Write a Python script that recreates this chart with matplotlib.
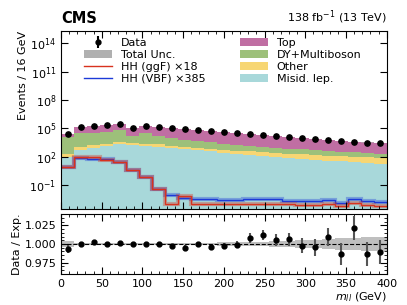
import numpy as np
import matplotlib
matplotlib.use("Agg")
import matplotlib.pyplot as plt
from matplotlib.ticker import FixedLocator, MultipleLocator, NullLocator, LogFormatterMathtext, FormatStrFormatter
from matplotlib.patches import Patch
from matplotlib.lines import Line2D

# ---- data ----
bin_edges = np.arange(0, 401, 16)
misid = [89, 562, 891, 1259, 1995, 1585, 1413, 1122, 891, 661, 501, 380, 282, 214, 158, 120, 93, 74, 59, 48, 40, 33, 28, 24, 19]
other = [111, 438, 694, 980, 1553, 1233, 1099, 873, 623, 487, 390, 328, 280, 233, 205, 175, 152, 135, 119, 103, 92, 82, 72, 65, 57]
dy_multiboson = [11020, 28512, 33896, 39448, 67247, 11307, 27000, 14601, 7399, 5162, 3680, 2603, 1837, 1415, 1082, 853, 667, 532, 425, 350, 285, 240, 195, 162, 124]
top = [16964, 102314, 150728, 203784, 217608, 95523, 156697, 141893, 108577, 78804, 58525, 45667, 36506, 29041, 24259, 19269, 15306, 12141, 9397, 7442, 5893, 4431, 3686, 2985, 2554]
data = [28001, 131826, 186637, 245471, 288807, 109648, 186135, 158489, 117138, 84688, 63071, 48758, 38788, 30872, 25910, 20656, 16306, 12963, 9978, 7907, 6370, 4724, 4065, 3191, 2724]
data_rel_err = [0.005, 0.0015, 0.0015, 0.0015, 0.0015, 0.0018, 0.0015, 0.0015, 0.002, 0.003, 0.003, 0.003, 0.004, 0.005, 0.007, 0.007, 0.0085, 0.009, 0.010, 0.011, 0.012, 0.0145, 0.016, 0.016, 0.016]
unc_rel = [0.0045, 0.001, 0.001, 0.001, 0.001, 0.001, 0.001, 0.0012, 0.0014, 0.0016, 0.0018, 0.002, 0.0022, 0.0025, 0.003, 0.0033, 0.0037, 0.0042, 0.005, 0.0058, 0.0065, 0.0075, 0.0085, 0.0095, 0.010]
hh_ggf = [8.9, 85, 91, 50, 26, 3.8, 0.74, 0.035, 0.0009, 0.0072, 0.0009, 0.0009, 0.0009, 0.0009, 0.0009, 0.0011, 0.0011, 0.0009, 0.00074, 0.00074, 0.0011, 0.00063, 0.0014, 0.00074, 0.00058]
hh_vbf = [8.5, 66, 63, 52, 26, 3.6, 0.71, 0.035, 0.01, 0.004, 0.0035, 0.0032, 0.0025, 0.0025, 0.003, 0.0038, 0.0032, 0.0021, 0.0019, 0.0019, 0.0025, 0.0014, 0.003, 0.0019, 0.0016]

colors = ["#a8d8da", "#f7d673", "#9dc07a", "#c06ea3"]
col_ggf = "#d8321e"
col_vbf = "#1c3ad8"

edges = np.array(bin_edges, dtype=float)
centers = 0.5 * (edges[1:] + edges[:-1])
comps = [np.array(misid, float), np.array(other, float), np.array(dy_multiboson, float), np.array(top, float)]
total = np.sum(comps, axis=0)
data_a = np.array(data, float)
ratio = data_a / total

plt.rcParams["font.family"] = "DejaVu Sans"
fig = plt.figure(figsize=(4.07, 3.05), dpi=100)
ax = fig.add_axes([0.150, 0.315, 0.800, 0.583])
rax = fig.add_axes([0.150, 0.102, 0.800, 0.196])

# stack
base = np.zeros_like(total)
for c, col in zip(comps, colors):
    ax.stairs(base + c, edges, baseline=base, fill=True, color=col, lw=0)
    base = base + c

# total unc band
unc = np.array(unc_rel)
ax.stairs(total * (1 + unc), edges, baseline=total * (1 - unc), fill=True, color="#b0b0b0", alpha=0.6, lw=0)

# signals
for vals, col in [(hh_vbf, col_vbf), (hh_ggf, col_ggf)]:
    ax.stairs(vals, edges, baseline=None, color=col, lw=3.0, alpha=0.35)
    ax.stairs(vals, edges, baseline=None, color=col, lw=1.0)

# data
ax.errorbar(centers, data_a, yerr=data_a * np.array(data_rel_err), fmt="o", color="black", ms=3.8, elinewidth=1, capsize=0)

ax.set_yscale("log")
ax.set_xlim(0, 400)
ax.set_ylim(3e-4, 2e15)
ax.yaxis.set_major_locator(FixedLocator([1e-1, 1e2, 1e5, 1e8, 1e11, 1e14]))
ax.yaxis.set_major_formatter(LogFormatterMathtext())
ax.yaxis.set_minor_locator(NullLocator())
ax.xaxis.set_major_locator(MultipleLocator(50))
ax.xaxis.set_minor_locator(MultipleLocator(10))
ax.tick_params(labelbottom=False)
ax.set_ylabel("Events / 16 GeV", fontsize=8, loc="top", labelpad=1)

# ratio
rax.stairs(1 + unc, edges, baseline=1 - unc, fill=True, color="#b0b0b0", alpha=0.8, lw=0)
rax.axhline(1.0, color="black", ls="--", lw=0.8)
rax.errorbar(centers, ratio, yerr=np.array(data_rel_err), fmt="o", color="black", ms=3.5, elinewidth=1.5, capsize=0, ecolor="#555555")
rax.set_xlim(0, 400)
rax.set_ylim(0.96, 1.04)
rax.yaxis.set_major_locator(FixedLocator([0.975, 1.0, 1.025]))
rax.yaxis.set_minor_locator(MultipleLocator(0.005))
rax.yaxis.set_major_formatter(FormatStrFormatter("%.3f"))
rax.xaxis.set_major_locator(MultipleLocator(50))
rax.xaxis.set_minor_locator(MultipleLocator(10))
rax.set_ylabel("Data / Exp.", fontsize=8, labelpad=2)
rax.set_xlabel("$m_{ll}$ (GeV)", fontsize=8, loc="right", labelpad=1)

for a in (ax, rax):
    a.tick_params(which="both", direction="in", top=True, right=True, labelsize=8)
    a.tick_params(which="major", length=5)
    a.tick_params(which="minor", length=2.5)
    for s in a.spines.values():
        s.set_linewidth(0.8)

# legend
eb = ax.errorbar([], [], yerr=[], fmt="o", color="black", ms=3.5)
handles = [
    eb,
    Patch(facecolor="#b0b0b0", edgecolor="none"),
    Line2D([], [], color=col_ggf, lw=1.0),
    Line2D([], [], color=col_vbf, lw=1.0),
    Patch(facecolor=colors[3]),
    Patch(facecolor=colors[2]),
    Patch(facecolor=colors[1]),
    Patch(facecolor=colors[0]),
]
leg_labels = ["Data", "Total Unc.", "HH (ggF) \u00d718", "HH (VBF) \u00d7385", "Top", "DY+Multiboson", "Other", "Misid. lep."]
ax.legend(handles, leg_labels, ncol=2, frameon=False, fontsize=8, loc="upper left",
          bbox_to_anchor=(0.058, 0.987), handlelength=2.5, labelspacing=0.18, columnspacing=3.1, borderaxespad=0)

fig.text(0.150, 0.915, "CMS", fontsize=10.5, fontweight="bold", ha="left", va="bottom")
fig.text(0.950, 0.915, "138 fb$^{-1}$ (13 TeV)", fontsize=8, ha="right", va="bottom")

fig.savefig("out.png", dpi=100)
